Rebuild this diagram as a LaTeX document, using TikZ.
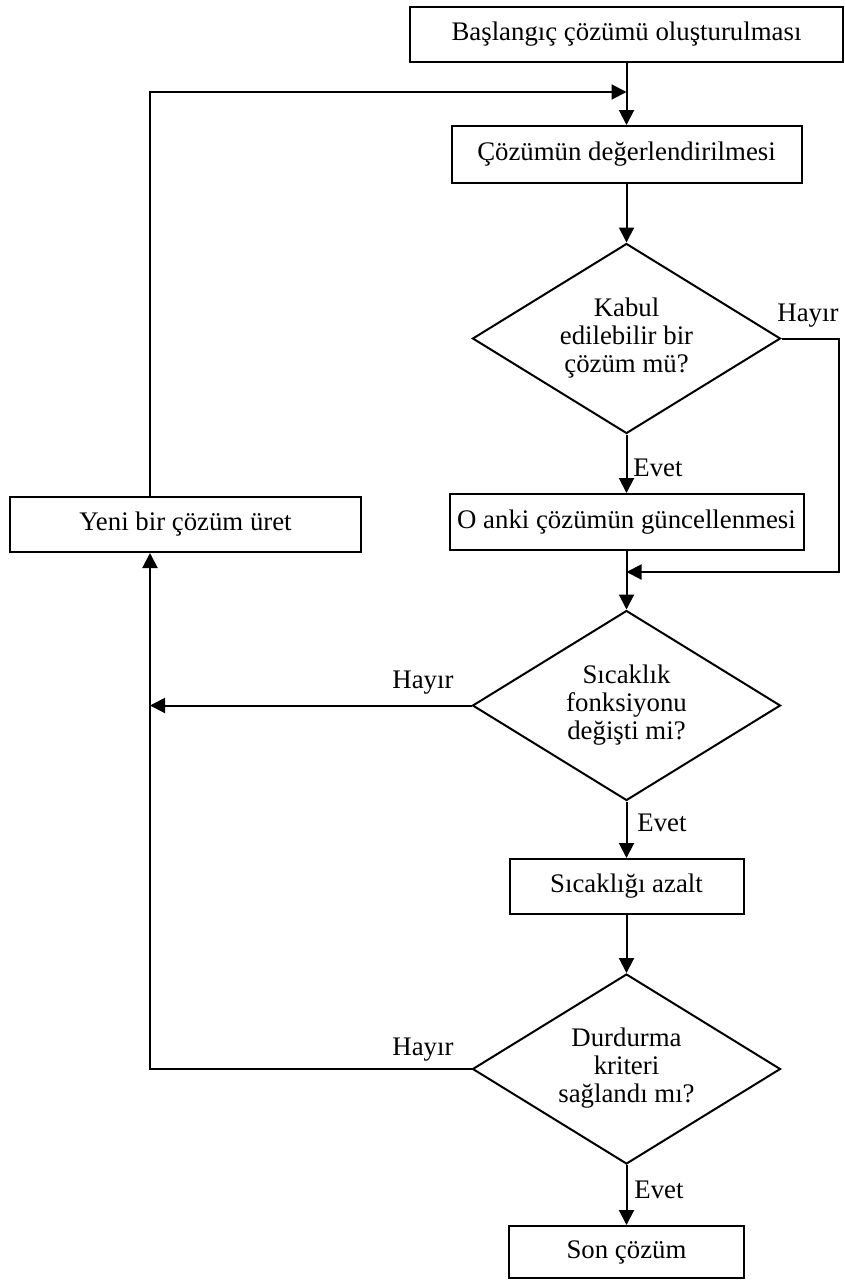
\documentclass[tikz,border=0pt]{standalone}
\usepackage{fontspec}
\setmainfont{Liberation Serif}
\usetikzlibrary{shapes.geometric,arrows.meta}
\begin{document}
\begin{tikzpicture}[x=0.5pt,y=-0.5pt,
  every node/.style={font=\fontsize{13.4}{14}\selectfont},
  procbox/.style={draw,line width=1pt,rectangle,inner sep=0pt,align=center},
  decision/.style={draw,line width=1pt,diamond,aspect=1.6,inner sep=0pt,align=center,
    minimum width=154pt,minimum height=95pt},
  flow/.style={line width=1pt,-{Triangle[length=7.5pt,width=7.5pt]}},
  plain/.style={line width=1pt},
  lbl/.style={inner sep=0pt}]
\useasboundingbox (0,0) rectangle (845,1280);

% process boxes and decisions
\node[procbox,minimum width=216.5pt,minimum height=27.5pt] (start) at (626.5,34.5) {Başlangıç çözümü oluşturulması};
\node[procbox,minimum width=175pt,minimum height=28.5pt] (eval) at (626.5,154.5) {Çözümün değerlendirilmesi};
\node[decision] (accept) at (626.5,338.5) {\lower1.5pt\hbox{\begin{tabular}{@{}c@{}}Kabul\\edilebilir bir\\çözüm mü?\end{tabular}}};
\node[procbox,minimum width=177pt,minimum height=28pt] (update) at (626.5,522) {O anki çözümün güncellenmesi};
\node[procbox,minimum width=175.5pt,minimum height=27.5pt] (newsol) at (185.5,524.5) {Yeni bir çözüm üret};
\node[decision] (temp) at (626.5,705.5) {\lower1.5pt\hbox{\begin{tabular}{@{}c@{}}Sıcaklık\\fonksiyonu\\değişti mi?\end{tabular}}};
\node[procbox,minimum width=117pt,minimum height=27.5pt] (cool) at (626.5,886.5) {Sıcaklığı azalt};
\node[decision] (stop) at (626.5,1069) {\lower1.5pt\hbox{\begin{tabular}{@{}c@{}}Durdurma\\kriteri\\sağlandı mı?\end{tabular}}};
\node[procbox,minimum width=117.5pt,minimum height=26pt] (final) at (626.5,1252) {Son çözüm};

% helper points of the loops
\coordinate (lx) at (150,0);
\coordinate (rx) at (839,0);
\coordinate (j1) at (626.5,92);
\coordinate (j2) at (626.5,572);

% main flow
\draw[plain] (start.south) -- (j1);
\draw[flow] (j1) -- (eval.north);
\draw[flow] (eval.south) -- (accept.north);
\draw[flow] (accept.south) -- (update.north);
\draw[plain] (update.south) -- (j2);
\draw[flow] (j2) -- (temp.north);
\draw[flow] (temp.south) -- (cool.north);
\draw[flow] (cool.south) -- (stop.north);
\draw[flow] (stop.south) -- (final.north);

% loops
\draw[flow] (lx |- newsol.north) |- (j1);
\draw[flow] (accept.east) -- (accept.east -| rx) |- (j2);
\draw[flow] (temp.west) -- (temp.west -| lx);
\draw[flow] (stop.west) -- (stop.west -| lx) -- (lx |- newsol.south);

% branch labels
\node[lbl,anchor=west] (y1) at (633,468) {Evet};
\node[lbl,anchor=west] (y2) at (637,823) {Evet};
\node[lbl,anchor=west] (y3) at (634,1190) {Evet};
\node[lbl] (n1) at (808,316) {Hayır};
\node[lbl] (n2) at (423,683) {Hayır};
\node[lbl] (n3) at (423,1050) {Hayır};
\end{tikzpicture}
\end{document}
